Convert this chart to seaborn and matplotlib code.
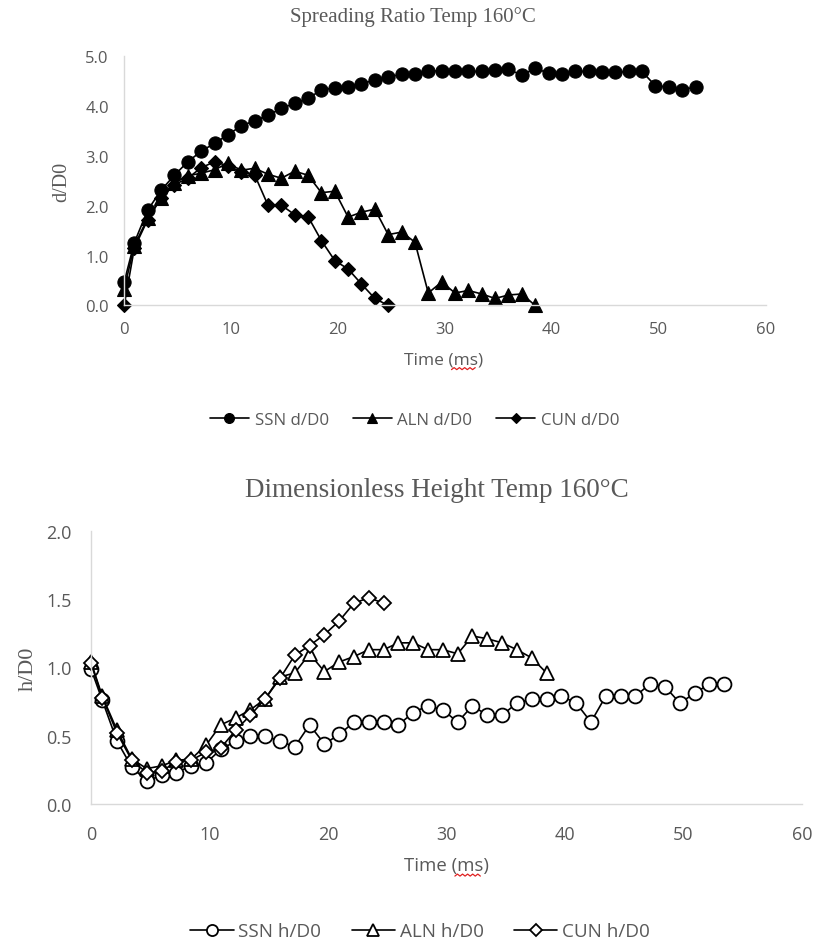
import matplotlib
matplotlib.use("Agg")
import matplotlib.pyplot as plt
from matplotlib.lines import Line2D
import numpy as np
import seaborn as sns

# time axis (ms), shared by all series
time_ms = [0, 0.95, 2.2, 3.45, 4.7, 5.95, 7.2, 8.45, 9.7, 10.95, 12.2, 13.45, 14.7,
           15.95, 17.2, 18.45, 19.7, 20.95, 22.2, 23.45, 24.7, 25.95, 27.2, 28.45,
           29.7, 30.95, 32.2, 33.45, 34.7, 35.95, 37.2, 38.45, 39.7, 40.95, 42.2,
           43.45, 44.7, 45.95, 47.2, 48.45, 49.7, 50.95, 52.2, 53.45]

# spreading ratio d/D0
ssn_d = [0.47, 1.26, 1.91, 2.31, 2.61, 2.88, 3.09, 3.25, 3.42, 3.60, 3.70, 3.81, 3.95,
         4.05, 4.15, 4.32, 4.36, 4.38, 4.44, 4.52, 4.57, 4.64, 4.64, 4.70, 4.70, 4.70,
         4.69, 4.69, 4.72, 4.74, 4.61, 4.76, 4.65, 4.64, 4.69, 4.69, 4.67, 4.67, 4.69,
         4.69, 4.40, 4.38, 4.32, 4.38]
aln_d = [0.33, 1.20, 1.75, 2.16, 2.45, 2.60, 2.65, 2.72, 2.85, 2.71, 2.75, 2.63, 2.55,
         2.69, 2.61, 2.26, 2.29, 1.77, 1.87, 1.93, 1.42, 1.47, 1.27, 0.25, 0.47, 0.25,
         0.30, 0.23, 0.14, 0.21, 0.23, 0.0]
cun_d = [0.0, 1.15, 1.72, 2.15, 2.42, 2.55, 2.76, 2.88, 2.80, 2.68, 2.62, 2.01, 2.01,
         1.82, 1.78, 1.30, 0.90, 0.73, 0.43, 0.14, 0.0]

# dimensionless height h/D0
ssn_h = [0.99, 0.76, 0.46, 0.27, 0.17, 0.21, 0.23, 0.28, 0.30, 0.40, 0.46, 0.50, 0.50,
         0.46, 0.42, 0.58, 0.44, 0.51, 0.60, 0.60, 0.60, 0.58, 0.67, 0.72, 0.69, 0.60,
         0.72, 0.65, 0.65, 0.74, 0.77, 0.77, 0.79, 0.74, 0.60, 0.79, 0.79, 0.79, 0.88,
         0.86, 0.74, 0.81, 0.88, 0.88]
aln_h = [1.04, 0.79, 0.54, 0.33, 0.26, 0.28, 0.32, 0.33, 0.43, 0.58, 0.63, 0.69, 0.77,
         0.93, 0.96, 1.10, 0.97, 1.04, 1.08, 1.13, 1.13, 1.18, 1.18, 1.13, 1.13, 1.10,
         1.23, 1.21, 1.18, 1.13, 1.07, 0.96]
cun_h = [1.03, 0.78, 0.52, 0.32, 0.23, 0.24, 0.31, 0.32, 0.38, 0.41, 0.54, 0.65, 0.77,
         0.92, 1.09, 1.16, 1.24, 1.34, 1.47, 1.51, 1.47]

x_ticks = [0, 10, 20, 30, 40, 50, 60]
d_ticks = [0.0, 1.0, 2.0, 3.0, 4.0, 5.0]
h_ticks = [0.0, 0.5, 1.0, 1.5, 2.0]

sns.set_style("white")
plt.rcParams['font.family'] = ['Open Sans', 'DejaVu Sans']

GREY = "#595959"
AXIS = "#d9d9d9"

fig = plt.figure(figsize=(8.17, 9.45), dpi=100)
ax1 = fig.add_axes([0.152, 0.6757, 0.785, 0.264])
ax2 = fig.add_axes([0.1114, 0.148, 0.870, 0.2893])


def draw(ax, series, filled, fs):
    for y, name, mk, size in series:
        n = len(y)
        face = "black" if filled else "white"
        sns.lineplot(x=time_ms[:n], y=y, ax=ax, color="black", linewidth=1.2,
                     marker=mk, markersize=size, markerfacecolor=face,
                     markeredgecolor="black", markeredgewidth=1.3 if not filled else 0.8,
                     sort=False, errorbar=None, label=name)
    for ln in ax.lines:
        ln.set_clip_on(False)
    ax.set_xlim(0, 60)
    ax.set_xticks(x_ticks)
    for s in ["top", "right"]:
        ax.spines[s].set_visible(False)
    for s in ["left", "bottom"]:
        ax.spines[s].set_color(AXIS)
        ax.spines[s].set_linewidth(1.0)
    ax.tick_params(length=0, labelsize=fs, colors=GREY)
    ax.grid(False)


draw(ax1, [(ssn_d, "SSN d/D0", "o", 9.5), (aln_d, "ALN d/D0", "^", 10),
           (cun_d, "CUN d/D0", "D", 7)], True, 12)
ax1.set_ylim(0, 5)
ax1.set_yticks(d_ticks)
ax1.set_yticklabels([f"{v:.1f}" for v in d_ticks])
ax1.tick_params(axis="y", pad=11)
ax1.tick_params(axis="x", pad=11)
ax1.set_ylabel("d/D0", family="Liberation Serif", fontsize=14.5, color=GREY)
ax1.yaxis.set_label_coords(-0.083, 0.5)
ax1.set_xlabel("Time (ms)", fontsize=12.5, color=GREY)
ax1.xaxis.set_label_coords(0.498, -0.185)
ax1.legend(loc="center", bbox_to_anchor=(0.453, -0.459), ncol=3, frameon=False,
           fontsize=12.2, labelcolor=GREY, handlelength=2.3, columnspacing=1.4,
           handletextpad=0.35, markerscale=0.75)

draw(ax2, [(ssn_h, "SSN h/D0", "o", 10), (aln_h, "ALN h/D0", "^", 10),
           (cun_h, "CUN h/D0", "D", 7.5)], False, 13)
ax2.set_ylim(0, 2)
ax2.set_yticks(h_ticks)
ax2.set_yticklabels([f"{v:.1f}" for v in h_ticks])
ax2.tick_params(axis="y", pad=14)
ax2.tick_params(axis="x", pad=15)
ax2.set_ylabel("h/D0", family="Liberation Serif", fontsize=16, color=GREY)
ax2.yaxis.set_label_coords(-0.0745, 0.5)
ax2.set_xlabel("Time (ms)", fontsize=13.4, color=GREY)
ax2.xaxis.set_label_coords(0.5, -0.19)
ax2.legend(loc="center", bbox_to_anchor=(0.463, -0.4645), ncol=3, frameon=False,
           fontsize=13.6, labelcolor=GREY, handlelength=2.3, columnspacing=1.6,
           handletextpad=0.25, markerscale=0.8)

fig.text(413 / 817, 1 - 17 / 945, "Spreading Ratio Temp 160\u00b0C", ha="center",
         va="center", family="Liberation Serif", fontsize=15, color=GREY)
fig.text(437 / 817, 1 - 491 / 945, "Dimensionless Height Temp 160\u00b0C", ha="center",
         va="center", family="Liberation Serif", fontsize=19.5, color=GREY)

# red spell-check squiggle under "ms" of each x label
fig.canvas.draw()
renderer = fig.canvas.get_renderer()
inv = fig.transFigure.inverted()
for ax in (ax1, ax2):
    bb = ax.xaxis.label.get_window_extent(renderer)
    x0 = bb.x0 + 0.60 * bb.width
    x1 = bb.x0 + 0.90 * bb.width
    n = int((x1 - x0) / 2.2)
    xs = np.linspace(x0, x1, n)
    ys = bb.y0 - 2 + np.where(np.arange(n) % 2 == 0, 0.0, 2.0)
    pts = inv.transform(np.column_stack([xs, ys]))
    fig.add_artist(Line2D(pts[:, 0], pts[:, 1], color="#e02020", linewidth=0.9,
                          transform=fig.transFigure))

fig.savefig("out.png", dpi=100, facecolor="white")
